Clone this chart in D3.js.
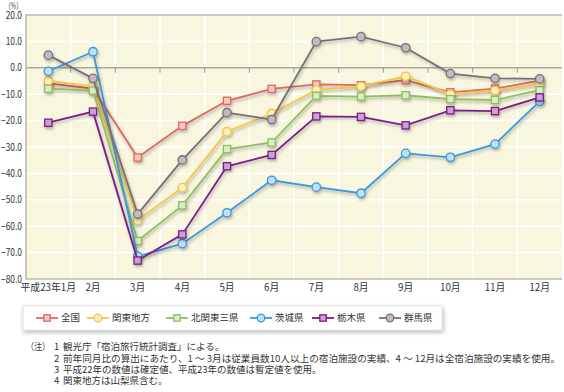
<!DOCTYPE html>
<html>
<head>
<meta charset="utf-8">
<script src="https://cdn.jsdelivr.net/npm/d3@7"></script>
<style>
  body { margin: 0; background: #fff; }
  svg { display: block; font-family: "Noto Sans CJK JP", "Noto Sans", sans-serif; }
</style>
</head>
<body>
<div id="chart"></div>
<script>
// months on the x axis
var months = ["平成23年1月", "2月", "3月", "4月", "5月", "6月", "7月", "8月", "9月", "10月", "11月", "12月"];
var yTicks = [20, 10, 0, -10, -20, -30, -40, -50, -60, -70, -80];

// 前年同月比 (%)
var zenkoku   = [-5.9, -7.9, -34.0, -22.0, -12.5, -8.0, -6.3, -6.6, -4.7, -9.3, -7.9, -4.9];
var kanto     = [-5.0, -7.0, -57.7, -45.4, -24.2, -17.3, -8.4, -7.0, -3.2, -10.0, -8.6, -6.0];
var kitakanto = [-7.9, -8.6, -65.6, -52.1, -30.8, -28.3, -10.6, -10.9, -10.4, -11.9, -12.2, -8.5];
var ibaraki   = [-1.3, 6.1, -71.4, -66.6, -54.9, -42.6, -45.2, -47.5, -32.4, -33.9, -28.9, -12.7];
var tochigi   = [-20.8, -16.6, -73.0, -63.1, -37.3, -33.0, -18.4, -18.6, -21.8, -16.1, -16.4, -11.2];
var gunma     = [4.8, -4.0, -55.4, -34.9, -17.0, -19.6, 9.9, 11.8, 7.6, -2.2, -4.0, -4.2];

var names = ["全国", "関東地方", "北関東三県", "茨城県", "栃木県", "群馬県"];
var notes = [
  ["（注）", "1", "観光庁「宿泊旅行統計調査」による。"],
  ["", "2", "前年同月比の算出にあたり、1 ～ 3月は従業員数10人以上の宿泊施設の実績、4 ～ 12月は全宿泊施設の実績を使用。"],
  ["", "3", "平成22年の数値は確定値、平成23年の数値は暫定値を使用。"],
  ["", "4", "関東地方は山梨県含む。"]
];

var series = [
  { name: names[0], values: zenkoku,   color: "#dc6a60", fill: "#f6c9c2", shape: "square" },
  { name: names[1], values: kanto,     color: "#f2c744", fill: "#fcefbf", shape: "circle" },
  { name: names[2], values: kitakanto, color: "#8dc05c", fill: "#dcedc6", shape: "square" },
  { name: names[3], values: ibaraki,   color: "#3b98dd", fill: "#bfe0f7", shape: "circle" },
  { name: names[4], values: tochigi,   color: "#7c1d88", fill: "#c9a2d0", shape: "square" },
  { name: names[5], values: gunma,     color: "#7a6e77", fill: "#c2bac0", shape: "circle" }
];

var width = 564, height = 392;
var pLeft = 26, pRight = 562, pTop = 15, pBottom = 279;

var svg = d3.select("#chart").append("svg")
  .attr("width", width)
  .attr("height", height);

var defs = svg.append("defs");
var f = defs.append("filter").attr("id", "shadow")
  .attr("x", "-20%").attr("y", "-20%").attr("width", "140%").attr("height", "140%");
f.append("feDropShadow").attr("dx", 1).attr("dy", 2).attr("stdDeviation", 1.6)
  .attr("flood-color", "#000").attr("flood-opacity", 0.3);
var f2 = defs.append("filter").attr("id", "boxshadow")
  .attr("x", "-10%").attr("y", "-30%").attr("width", "120%").attr("height", "180%");
f2.append("feDropShadow").attr("dx", 1).attr("dy", 2).attr("stdDeviation", 2)
  .attr("flood-color", "#000").attr("flood-opacity", 0.3);

var x = d3.scaleBand().domain(months).range([pLeft, pRight]).padding(0);
var y = d3.scaleLinear().domain([-80, 20]).range([pBottom, pTop]);
var cx = function(i) { return x(months[i]) + x.bandwidth() / 2; };

// plot background
svg.append("rect")
  .attr("x", pLeft).attr("y", pTop)
  .attr("width", pRight - pLeft).attr("height", pBottom - pTop)
  .attr("fill", "#f9f6df");

// grid
svg.append("g").selectAll("line").data(yTicks.slice(1, -1)).enter().append("line")
  .attr("x1", pLeft).attr("x2", pRight)
  .attr("y1", function(d) { return y(d); }).attr("y2", function(d) { return y(d); })
  .attr("stroke", "#fff").attr("stroke-width", 1.5);
svg.append("g").selectAll("line").data(months.slice(1)).enter().append("line")
  .attr("x1", function(d) { return x(d); }).attr("x2", function(d) { return x(d); })
  .attr("y1", pTop).attr("y2", pBottom)
  .attr("stroke", "#fff").attr("stroke-width", 1.5);

// zero line with ticks
svg.append("line")
  .attr("x1", pLeft).attr("x2", pRight)
  .attr("y1", y(0)).attr("y2", y(0))
  .attr("stroke", "#a9a69b").attr("stroke-width", 1.5);
svg.append("g").selectAll("line").data(months.slice(1)).enter().append("line")
  .attr("x1", function(d) { return x(d); }).attr("x2", function(d) { return x(d); })
  .attr("y1", y(0)).attr("y2", y(0) + 5)
  .attr("stroke", "#a9a69b").attr("stroke-width", 1.2);

// frame
svg.append("path")
  .attr("d", "M" + pRight + "," + pTop + "H" + pLeft + "V" + pBottom + "H" + pRight)
  .attr("fill", "none").attr("stroke", "#bcbab0").attr("stroke-width", 1.6);

// y axis labels (condensed like the original)
svg.append("g").selectAll("text").data(yTicks).enter().append("text")
  .attr("x", 22).attr("y", function(d) { return y(d); })
  .attr("dy", "0.35em")
  .attr("text-anchor", "end")
  .attr("font-size", 10.5)
  .attr("fill", "#333")
  .text(function(d) { return d3.format(".1f")(d); })
  .each(function() {
    var w = this.getComputedTextLength();
    d3.select(this).attr("textLength", w * 0.8).attr("lengthAdjust", "spacingAndGlyphs");
  });
svg.append("text")
  .attr("x", 5).attr("y", 6).attr("dy", "0.35em")
  .attr("font-size", 8.5).attr("fill", "#333")
  .attr("textLength", 17).attr("lengthAdjust", "spacingAndGlyphs")
  .text("（%）");

// x axis labels
svg.append("g").selectAll("text").data(months).enter().append("text")
  .attr("x", function(d, i) { return cx(i); }).attr("y", 288)
  .attr("dy", "0.35em")
  .attr("text-anchor", "middle")
  .attr("font-size", 9.8)
  .attr("fill", "#333")
  .text(function(d) { return d; });

function drawMarker(g, shape, px, py, s, size) {
  if (shape == "square") {
    g.append("rect")
      .attr("x", px - size).attr("y", py - size)
      .attr("width", size * 2).attr("height", size * 2)
      .attr("fill", s.fill).attr("stroke", s.color).attr("stroke-width", 1.3);
  } else {
    g.append("circle")
      .attr("cx", px).attr("cy", py).attr("r", size + 0.6)
      .attr("fill", s.fill).attr("stroke", s.color).attr("stroke-width", 1.3);
  }
}

var line = d3.line()
  .x(function(d, i) { return cx(i); })
  .y(function(d) { return y(d); });

series.forEach(function(s) {
  var g = svg.append("g").attr("filter", "url(#shadow)");
  g.append("path")
    .datum(s.values)
    .attr("d", line)
    .attr("fill", "none")
    .attr("stroke", s.color)
    .attr("stroke-width", 1.8);
  s.values.forEach(function(v, i) {
    drawMarker(g, s.shape, cx(i), y(v), s, 3.6);
  });
});

// legend
var lg = svg.append("g");
lg.append("rect")
  .attr("x", 23).attr("y", 306).attr("width", 419).attr("height", 24)
  .attr("fill", "#fff").attr("stroke", "#dcdcdc").attr("stroke-width", 0.8)
  .attr("filter", "url(#boxshadow)");
var legX = [36, 87, 166, 250, 312, 379];
series.forEach(function(s, i) {
  var gx = legX[i], gy = 318;
  lg.append("line")
    .attr("x1", gx).attr("x2", gx + 22)
    .attr("y1", gy).attr("y2", gy)
    .attr("stroke", s.color).attr("stroke-width", 1.8);
  drawMarker(lg, s.shape, gx + 11, gy, s, 3.2);
  lg.append("text")
    .attr("x", gx + 25).attr("y", gy).attr("dy", "0.35em")
    .attr("font-size", 9.5).attr("fill", "#333")
    .text(s.name);
});

// notes
var noteY = [347, 358.5, 370, 381];
notes.forEach(function(n, i) {
  if (n[0]) {
    svg.append("text").attr("x", 26).attr("y", noteY[i]).attr("dy", "0.35em")
      .attr("font-size", 9.5).attr("fill", "#333")
      .attr("textLength", 24).attr("lengthAdjust", "spacingAndGlyphs")
      .text(n[0]);
  }
  svg.append("text").attr("x", 54).attr("y", noteY[i]).attr("dy", "0.35em")
    .attr("font-size", 9.5).attr("fill", "#333").text(n[1]);
  var t = svg.append("text").attr("x", 63).attr("y", noteY[i]).attr("dy", "0.35em")
    .attr("font-size", 9.5).attr("fill", "#333").text(n[2]);
  if (i == 1) t.attr("textLength", 497).attr("lengthAdjust", "spacingAndGlyphs");
});
</script>
</body>
</html>
